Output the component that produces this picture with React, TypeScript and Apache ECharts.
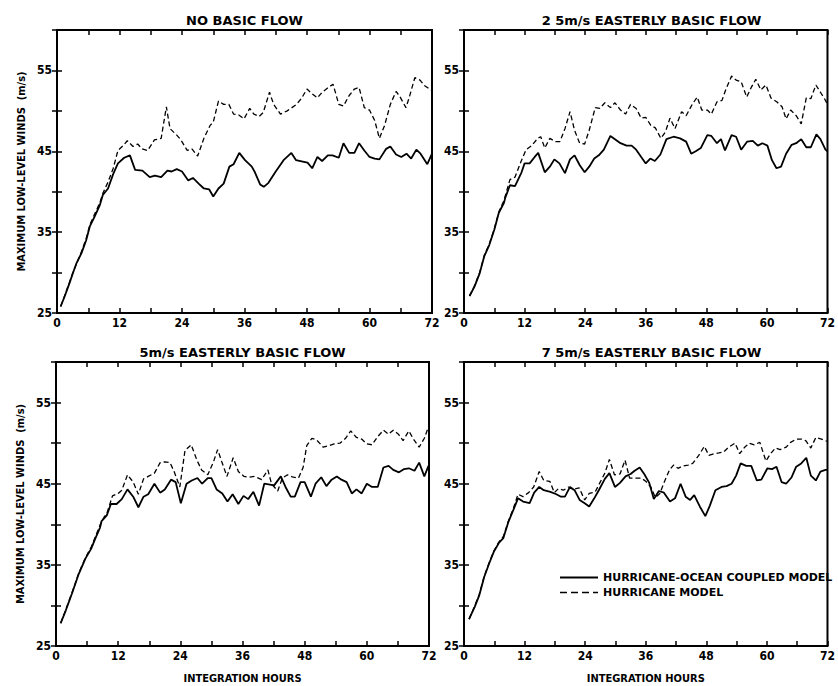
import React, { useEffect, useRef } from 'react';
import * as echarts from 'echarts';

// ---- Data (hour, max low-level wind m/s) ----
const PANEL_TITLES = [
  'NO BASIC FLOW',
  '2 5m/s EASTERLY BASIC FLOW',
  '5m/s EASTERLY BASIC FLOW',
  '7 5m/s EASTERLY BASIC FLOW',
];

const SERIES_NAMES = ['HURRICANE-OCEAN COUPLED MODEL', 'HURRICANE MODEL'];

const X_TICK_LABELS = [0, 12, 24, 36, 48, 60, 72];
const Y_TICK_LABELS = [25, 35, 45, 55];
const X_AXIS_NAME = 'INTEGRATION HOURS';
const Y_AXIS_NAME = 'MAXIMUM LOW-LEVEL WINDS  (m/s)';

const p1Coupled: number[][] = [
  [0.7, 25.8], [1.5, 27.1], [2.4, 28.7], [3.1, 30.0], [3.7, 31.1], [4.7, 32.4], [5.6, 34.0], [6.3, 35.7],
  [7.2, 36.9], [8.2, 38.3], [8.8, 39.6], [9.8, 40.4], [10.8, 42.2], [11.7, 43.5], [12.9, 44.2], [14.0, 44.5],
  [15.0, 42.7], [16.4, 42.6], [17.8, 41.8], [18.8, 42.0], [20.0, 41.8], [21.2, 42.6], [22.0, 42.5], [23.0, 42.8],
  [24.0, 42.5], [25.2, 41.4], [26.1, 41.7], [27.2, 41.0], [28.2, 40.4], [29.2, 40.3], [30.0, 39.4], [31.0, 40.4],
  [32.0, 41.0], [33.1, 43.1], [33.9, 43.4], [35.0, 44.8], [36.1, 43.9], [37.4, 43.1], [38.0, 42.4], [39.0, 40.9],
  [39.7, 40.6], [40.6, 41.1], [41.9, 42.4], [43.5, 43.9], [45.0, 44.8], [45.9, 43.9], [47.4, 43.7], [48.1, 43.6],
  [49.0, 42.9], [50.0, 44.3], [50.9, 43.8], [52.0, 44.5], [52.9, 44.5], [54.1, 44.2], [55.0, 46.0], [56.1, 44.8],
  [57.1, 44.8], [58.0, 46.0], [59.0, 45.1], [60.0, 44.3], [61.0, 44.1], [61.9, 44.0], [63.2, 45.3], [64.0, 45.6],
  [65.1, 44.6], [66.1, 44.3], [67.1, 44.7], [68.0, 44.1], [69.0, 45.2], [69.8, 44.7], [71.1, 43.4], [72.0, 44.7],
];

const p1Hurricane: number[][] = [
  [0.7, 25.8], [1.5, 27.2], [2.4, 28.8], [3.1, 30.1], [3.7, 31.0], [4.7, 32.6], [5.6, 34.2], [6.3, 35.9],
  [7.2, 37.2], [8.2, 38.6], [8.8, 39.8], [9.8, 41.2], [10.8, 42.9], [11.7, 45.1], [12.7, 45.7], [13.5, 46.3],
  [14.6, 45.6], [15.5, 45.9], [16.3, 45.3], [17.4, 45.1], [18.7, 46.4], [20.0, 46.6], [21.0, 50.5], [21.7, 47.8],
  [23.0, 47.0], [23.8, 46.4], [25.0, 45.1], [25.9, 45.3], [27.0, 44.4], [28.2, 46.6], [29.4, 48.2], [30.0, 48.6],
  [31.0, 51.2], [32.0, 50.8], [33.0, 50.8], [33.9, 49.6], [34.9, 49.5], [35.9, 49.0], [37.0, 50.3], [37.8, 49.6],
  [38.8, 49.3], [39.6, 49.8], [40.8, 52.3], [41.6, 50.8], [42.9, 49.6], [44.2, 50.0], [45.1, 50.4], [46.0, 50.8],
  [47.0, 51.6], [48.0, 52.7], [49.0, 52.1], [50.0, 51.6], [50.9, 52.3], [51.9, 52.8], [53.0, 53.3], [54.1, 50.8],
  [55.0, 50.6], [56.1, 51.9], [57.1, 52.7], [58.0, 52.9], [59.0, 50.4], [60.0, 50.1], [61.0, 48.8], [61.9, 46.6],
  [62.9, 48.2], [64.0, 50.8], [65.1, 52.4], [65.8, 51.8], [67.0, 50.4], [67.6, 51.6], [68.7, 54.1], [69.7, 53.8],
  [70.6, 53.1], [72.0, 52.5],
];

const p2Coupled: number[][] = [
  [1.1, 27.1], [2.1, 28.3], [3.1, 29.9], [4.0, 32.0], [5.0, 33.4], [6.0, 35.3], [6.9, 37.4], [7.9, 38.6],
  [8.2, 39.3], [9.1, 40.8], [10.1, 40.7], [11.4, 42.4], [12.0, 43.5], [13.0, 43.5], [14.0, 44.3], [14.7, 44.8],
  [16.0, 42.4], [17.0, 43.1], [17.9, 44.0], [18.9, 43.5], [20.0, 42.3], [21.0, 44.0], [21.9, 44.5], [22.9, 43.3],
  [23.9, 42.4], [24.8, 43.1], [25.8, 44.1], [26.7, 44.5], [27.7, 45.2], [29.0, 46.9], [29.9, 46.5], [31.0, 46.0],
  [32.2, 45.7], [33.2, 45.7], [34.1, 45.2], [35.1, 44.3], [36.0, 43.5], [36.9, 44.1], [37.8, 43.8], [38.9, 44.6],
  [40.1, 46.5], [41.5, 46.8], [42.8, 46.6], [44.0, 46.2], [45.0, 44.7], [45.9, 45.0], [46.9, 45.4], [48.2, 47.0],
  [49.0, 46.9], [50.1, 46.0], [50.9, 46.5], [51.7, 45.1], [53.0, 47.0], [53.9, 46.8], [54.9, 45.2], [56.1, 46.2],
  [57.2, 46.3], [58.2, 45.7], [59.1, 46.0], [60.1, 45.7], [61.0, 43.9], [61.9, 42.9], [62.8, 43.1], [63.8, 44.7],
  [64.9, 45.8], [65.8, 46.0], [66.8, 46.5], [67.8, 45.5], [68.7, 45.5], [69.8, 47.1], [70.6, 46.5], [71.6, 45.2],
  [72.0, 45.0],
];

const p2Hurricane: number[][] = [
  [1.1, 27.1], [2.1, 28.4], [3.1, 30.0], [4.0, 32.1], [5.0, 33.5], [6.0, 35.4], [6.9, 37.5], [7.9, 38.9],
  [9.1, 41.5], [10.1, 41.8], [11.4, 43.9], [12.3, 45.2], [13.4, 45.7], [14.6, 46.6], [15.2, 46.8], [16.0, 45.4],
  [17.0, 46.6], [18.1, 46.2], [19.0, 46.2], [20.0, 47.8], [21.0, 49.9], [21.9, 47.6], [22.9, 46.0], [23.9, 45.9],
  [24.8, 47.6], [26.0, 50.4], [26.9, 50.3], [27.9, 51.0], [29.0, 50.4], [29.9, 51.0], [31.0, 50.1], [32.0, 49.6],
  [33.0, 50.8], [34.1, 50.3], [35.1, 49.1], [36.0, 49.2], [37.0, 48.2], [37.9, 47.9], [39.0, 46.6], [39.9, 47.4],
  [40.8, 49.1], [41.8, 47.8], [43.1, 49.9], [44.0, 49.4], [45.2, 50.8], [46.2, 51.7], [47.1, 50.1], [48.2, 50.1],
  [49.0, 49.6], [50.1, 51.1], [51.1, 51.3], [51.9, 52.7], [53.0, 54.3], [53.9, 53.8], [54.9, 53.6], [56.0, 51.7],
  [56.9, 52.9], [57.8, 53.9], [58.8, 52.6], [59.8, 53.2], [60.8, 51.6], [62.0, 51.1], [63.0, 50.5], [63.8, 49.0],
  [64.7, 50.1], [65.8, 49.4], [66.8, 48.4], [67.8, 51.6], [68.7, 51.5], [69.7, 53.2], [70.6, 52.3], [71.6, 51.3],
  [72.0, 50.8],
];

const p3Coupled: number[][] = [
  [0.9, 27.8], [1.9, 29.4], [3.1, 31.5], [4.4, 33.9], [5.7, 35.8], [6.8, 37.0], [7.5, 38.1], [8.5, 39.6],
  [8.8, 40.4], [9.8, 41.1], [10.6, 42.5], [11.7, 42.5], [12.7, 43.1], [13.8, 44.3], [14.9, 43.4], [15.9, 42.1],
  [16.9, 43.4], [17.8, 43.7], [19.0, 45.0], [20.1, 43.9], [21.0, 44.3], [22.2, 45.5], [23.1, 45.2], [24.1, 42.6],
  [25.2, 45.0], [26.2, 45.4], [27.3, 45.7], [28.2, 45.0], [29.3, 45.7], [30.0, 45.7], [31.0, 44.3], [32.1, 43.8],
  [33.1, 42.8], [34.1, 43.7], [35.2, 42.5], [36.2, 43.5], [37.1, 43.1], [38.1, 44.0], [39.2, 42.3], [40.2, 45.0],
  [41.3, 44.9], [42.1, 44.8], [43.4, 45.9], [44.3, 44.6], [45.3, 43.4], [46.1, 43.4], [47.2, 45.2], [48.0, 45.2],
  [49.2, 43.4], [50.1, 45.0], [51.2, 45.8], [52.2, 44.7], [53.2, 45.5], [54.2, 45.9], [55.1, 45.5], [56.1, 45.2],
  [57.1, 43.8], [58.0, 44.3], [59.0, 43.8], [60.0, 45.0], [61.0, 44.6], [62.1, 44.6], [63.2, 47.0], [64.2, 47.2],
  [65.1, 46.7], [66.2, 46.4], [67.2, 46.8], [68.1, 46.9], [69.2, 46.6], [70.1, 47.6], [71.1, 45.9], [71.9, 47.2],
];

const p3Hurricane: number[][] = [
  [0.9, 27.8], [1.9, 29.5], [3.1, 31.6], [4.4, 34.0], [5.7, 35.9], [6.8, 37.2], [7.5, 38.3], [8.5, 39.9],
  [9.3, 40.9], [9.8, 41.3], [10.9, 43.5], [12.0, 43.8], [12.7, 44.2], [13.8, 46.1], [14.9, 45.2], [15.9, 43.7],
  [16.9, 45.6], [17.8, 45.9], [19.0, 46.3], [20.1, 47.6], [21.0, 47.7], [22.0, 47.6], [22.8, 46.5], [23.9, 44.6],
  [24.9, 49.1], [26.1, 49.8], [27.2, 47.9], [28.1, 46.7], [29.3, 46.1], [30.4, 47.7], [31.2, 49.2], [32.0, 47.7],
  [33.0, 45.9], [34.2, 48.2], [35.2, 46.5], [36.3, 45.9], [37.3, 45.8], [38.4, 45.9], [39.7, 45.5], [40.9, 46.7],
  [41.6, 45.0], [42.8, 44.1], [43.7, 45.7], [44.7, 46.1], [45.8, 45.8], [46.8, 45.7], [47.7, 47.0], [48.4, 49.7],
  [49.4, 50.6], [50.3, 50.4], [51.6, 49.5], [52.7, 49.7], [53.7, 49.9], [54.8, 50.0], [55.9, 50.6], [56.9, 51.5],
  [58.0, 50.7], [59.0, 50.5], [60.0, 49.9], [61.0, 49.8], [62.1, 50.8], [63.2, 51.6], [64.2, 51.1], [65.1, 51.6],
  [66.1, 51.1], [67.0, 50.3], [68.1, 51.5], [69.2, 50.3], [70.1, 49.5], [71.1, 50.6], [72.0, 52.2],
];

const p4Coupled: number[][] = [
  [1.0, 28.3], [2.1, 29.8], [3.0, 31.2], [4.0, 33.5], [5.0, 35.2], [5.9, 36.6], [6.9, 37.7], [7.8, 38.3],
  [8.8, 40.3], [9.8, 41.8], [10.7, 43.2], [11.7, 42.8], [13.0, 42.6], [13.9, 43.9], [14.9, 44.6], [15.8, 44.2],
  [17.1, 44.0], [18.3, 43.7], [19.2, 43.4], [20.0, 43.4], [21.0, 44.6], [21.9, 44.2], [22.9, 43.0], [23.9, 42.6],
  [24.8, 42.2], [25.8, 43.2], [26.7, 44.2], [27.9, 45.6], [28.8, 46.3], [29.9, 44.6], [30.9, 45.1], [32.0, 45.9],
  [33.0, 46.2], [33.8, 46.6], [34.8, 47.0], [35.7, 46.2], [36.7, 45.1], [37.6, 43.1], [38.6, 44.1], [39.6, 43.9],
  [40.8, 42.8], [41.8, 43.2], [42.9, 45.0], [43.9, 43.4], [44.8, 43.0], [45.6, 43.6], [46.7, 42.2], [47.8, 41.0],
  [48.7, 42.3], [49.8, 44.2], [51.0, 44.6], [52.0, 44.7], [53.0, 45.0], [53.9, 46.0], [54.8, 47.5], [55.9, 47.2],
  [56.9, 47.2], [58.0, 45.4], [58.9, 45.5], [60.1, 46.9], [61.0, 46.8], [61.9, 47.1], [62.9, 45.2], [63.8, 45.0],
  [64.9, 45.8], [65.8, 47.1], [66.8, 47.5], [67.8, 48.2], [68.7, 46.0], [69.7, 45.4], [70.6, 46.5], [71.6, 46.7],
  [72.0, 46.7],
];

const p4Hurricane: number[][] = [
  [1.0, 28.3], [2.1, 29.9], [3.0, 31.3], [4.0, 33.6], [5.0, 35.3], [5.9, 36.7], [6.9, 37.8], [7.8, 38.5],
  [8.8, 40.4], [9.8, 42.0], [10.7, 43.7], [11.7, 43.4], [12.8, 43.9], [13.8, 44.6], [14.9, 46.5], [15.8, 45.4],
  [17.0, 45.3], [17.9, 43.9], [18.7, 44.4], [19.7, 44.2], [20.7, 44.6], [21.6, 44.3], [22.8, 44.5], [23.9, 43.0],
  [24.8, 43.8], [26.0, 44.0], [26.9, 45.1], [27.9, 46.3], [28.8, 48.0], [29.8, 46.1], [30.9, 46.2], [31.9, 47.9],
  [32.8, 45.7], [34.1, 45.7], [35.1, 45.7], [36.0, 45.3], [37.0, 44.6], [37.9, 43.3], [38.8, 43.8], [39.6, 45.1],
  [40.7, 46.7], [41.5, 47.3], [42.4, 46.9], [43.4, 47.2], [44.4, 47.3], [45.3, 47.5], [46.5, 48.5], [47.6, 49.6],
  [48.5, 48.5], [49.5, 48.7], [50.5, 48.8], [51.4, 48.9], [52.4, 49.5], [53.7, 50.0], [54.6, 48.7], [55.6, 49.5],
  [56.5, 50.0], [57.5, 49.8], [58.6, 50.1], [59.8, 47.8], [60.7, 48.7], [61.7, 49.4], [62.6, 49.2], [63.8, 49.5],
  [64.7, 50.1], [65.8, 50.5], [66.9, 50.5], [67.7, 50.3], [68.7, 49.4], [69.7, 50.7], [70.8, 50.5], [71.6, 50.3],
  [72.0, 50.2],
];

const COUPLED = [p1Coupled, p2Coupled, p3Coupled, p4Coupled];
const HURRICANE = [p1Hurricane, p2Hurricane, p3Hurricane, p4Hurricane];

// ---- Layout ----
const GRIDS = [
  { left: 57, top: 30, width: 375, height: 283 },
  { left: 464, top: 30, width: 375, height: 283 },
  { left: 56, top: 362, width: 373, height: 284 },
  { left: 464, top: 362, width: 375, height: 284 },
];

const NARROW = '"Liberation Sans Narrow", "DejaVu Sans Condensed", sans-serif';
const WIDE = '"DejaVu Sans", sans-serif';

export default function App() {
  const ref = useRef<HTMLDivElement>(null);

  useEffect(() => {
    document.body.style.margin = '0';
    if (!ref.current) return;
    const chart = echarts.init(ref.current, undefined, { renderer: 'svg' });

    const tick = { show: true, inside: true, length: 5, lineStyle: { color: '#000', width: 1.5 } };
    const xAxes: any[] = [];
    const yAxes: any[] = [];
    GRIDS.forEach((g, i) => {
      const isBottom = i >= 2;
      const isLeft = i % 2 === 0;
      xAxes.push({
        type: 'value',
        gridIndex: i,
        position: 'bottom',
        min: 0,
        max: 72,
        interval: 6,
        name: isBottom ? X_AXIS_NAME : '',
        nameLocation: 'middle',
        nameGap: 27,
        nameTextStyle: { fontFamily: NARROW, fontWeight: 'bold', fontSize: 11, color: '#000' },
        axisLine: { show: false },
        axisTick: tick,
        axisLabel: {
          margin: 4,
          fontFamily: NARROW,
          fontWeight: 'bold',
          fontSize: 12,
          color: '#000',
          formatter: (v: number) => (X_TICK_LABELS.includes(v) ? String(v) : ''),
        },
        splitLine: { show: false },
      });
      yAxes.push({
        type: 'value',
        gridIndex: i,
        position: 'left',
        min: 25,
        max: 60,
        interval: 5,
        name: isLeft ? Y_AXIS_NAME : '',
        nameLocation: 'middle',
        nameGap: 30,
        nameTextStyle: { fontFamily: NARROW, fontWeight: 'bold', fontSize: 11, color: '#000' },
        axisLine: { show: false },
        axisTick: tick,
        axisLabel: {
          margin: 5,
          fontFamily: NARROW,
          fontWeight: 'bold',
          fontSize: 12,
          color: '#000',
          formatter: (v: number) => (Y_TICK_LABELS.includes(v) ? String(v) : ''),
        },
        splitLine: { show: false },
      });
    });
    // Mirror axes for ticks on top and right edges
    GRIDS.forEach((_, i) => {
      xAxes.push({
        type: 'value', gridIndex: i, position: 'top', min: 0, max: 72, interval: 6,
        axisLine: { show: false }, axisTick: tick,
        axisLabel: { show: false }, splitLine: { show: false },
      });
      yAxes.push({
        type: 'value', gridIndex: i, position: 'right', min: 25, max: 60, interval: 5,
        axisLine: { show: false }, axisTick: tick,
        axisLabel: { show: false }, splitLine: { show: false },
      });
    });

    const series: any[] = [];
    GRIDS.forEach((_, i) => {
      series.push({
        name: SERIES_NAMES[0],
        type: 'line',
        xAxisIndex: i,
        yAxisIndex: i,
        data: COUPLED[i],
        symbol: 'none',
        showSymbol: false,
        itemStyle: { color: '#000' },
        lineStyle: { color: '#000', width: 1.8 },
        z: 3,
      });
      series.push({
        name: SERIES_NAMES[1],
        type: 'line',
        xAxisIndex: i,
        yAxisIndex: i,
        data: HURRICANE[i],
        symbol: 'none',
        showSymbol: false,
        itemStyle: { color: '#000' },
        lineStyle: { color: '#000', width: 1.3, type: [5, 3] },
        z: 2,
      });
    });

    const titles = PANEL_TITLES.map((t, i) => ({
      type: 'text',
      x: GRIDS[i].left + GRIDS[i].width / 2,
      y: i < 2 ? 20 : 352,
      style: {
        text: t,
        fill: '#000',
        font: `bold 13px ${WIDE}`,
        textAlign: 'center',
        textVerticalAlign: 'middle',
      },
    }));

    chart.setOption({
      animation: false,
      backgroundColor: '#fff',
      grid: GRIDS.map((g) => ({ ...g, show: true, borderColor: '#000', borderWidth: 2, backgroundColor: 'transparent' })),
      xAxis: xAxes,
      yAxis: yAxes,
      legend: {
        data: [
          { name: SERIES_NAMES[0], lineStyle: { width: 2 } },
          { name: SERIES_NAMES[1], lineStyle: { width: 1.5, type: [7, 4] } },
        ],
        orient: 'vertical',
        left: 554,
        top: 567,
        itemWidth: 38,
        itemHeight: 10,
        itemGap: 4,
        selectedMode: false,
        itemStyle: { opacity: 0 },
        textStyle: { fontFamily: WIDE, fontWeight: 'bold', fontSize: 11, color: '#000' },
      },
      graphic: titles,
      series,
    });

    return () => {
      chart.dispose();
    };
  }, []);

  return (
    <div
      ref={ref}
      style={{ position: 'absolute', left: 0, top: 0, width: 838, height: 686 }}
    />
  );
}
